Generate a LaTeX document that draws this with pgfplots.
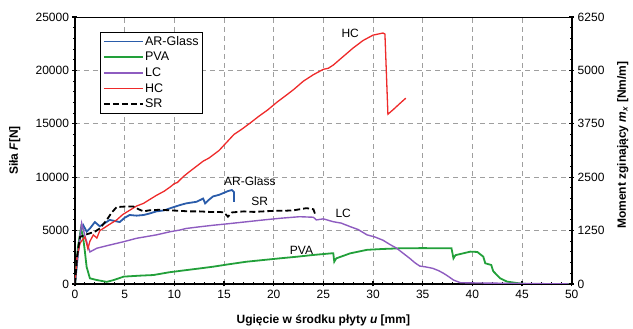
\documentclass[border=0pt]{standalone}
\usepackage{fontspec}
\setmainfont{Liberation Sans}
\usepackage{pgfplots}
\pgfplotsset{compat=1.18}
\definecolor{cblue}{HTML}{2A5CAA}
\definecolor{cgreen}{HTML}{22A03A}
\definecolor{cpurple}{HTML}{8E5CC0}
\definecolor{cred}{HTML}{EE2A2A}
\begin{document}
\begin{tikzpicture}
\pgfplotsset{
 common/.style={width=496.7pt,height=267pt,scale only axis,xmin=0,xmax=50,
 /pgf/number format/assume math mode=true,/pgf/number format/1000 sep={},
 tick label style={font=\fontsize{12}{14}\selectfont},
 label style={font=\bfseries\fontsize{12}{14}\selectfont},
 major tick length=5pt, minor tick length=3pt, tick align=center,
 major tick style={black,line width=1.2pt},
 minor tick style={black,line width=1pt},
 axis line style={line width=1.8pt,-},
 }
}
\begin{axis}[common, ymin=0,ymax=25000, axis x line*=bottom, axis y line*=left,
 xtick={0,5,...,50}, minor x tick num=4, ytick={0,5000,...,25000}, minor y tick num=4,
 grid=major, major grid style={dash pattern=on 5pt off 4pt, gray!75, line width=0.8pt},
 scaled y ticks=false,
 xlabel={Ugięcie w środku płyty \textit{u} [mm]},
 ylabel={Siła \textit{F}[N]},
 xlabel style={at={(axis description cs:0.5,-0.135)},anchor=center},
 ylabel style={at={(axis description cs:-0.121,0.5)},anchor=center},
 legend style={at={(0.05,0.944)},anchor=north west, draw=black,
   font=\fontsize{12.5}{14}\selectfont, row sep=3.5pt, inner xsep=3pt, inner ysep=3pt,
   nodes={inner sep=1pt}},
 legend cell align=left,
 legend image code/.code={\draw[#1] (0cm,0cm) -- (1.38cm,0cm);},
]
\addplot[cblue, line width=1.8pt] coordinates {(0,0) (0.3,2800) (0.6,5000) (0.84,5500) (1.17,4900) (1.5,5200) (2.0,5800) (2.5,5400) (3.0,5700) (3.5,6000) (4.0,5900) (4.5,5800) (5.0,6200) (5.5,6460) (6.2,6400) (6.9,6460) (7.5,6600) (8.2,6800) (9.0,6900) (9.6,7100) (10.6,7400) (11.2,7550) (12.25,7700) (12.9,8000) (13.1,7550) (13.5,7900) (13.9,8200) (14.5,8350) (14.9,8500) (15.4,8700) (15.8,8800) (16.0,8600) (16.0,7700)};
\addlegendentry{AR-Glass}
\addplot[cgreen, line width=1.8pt] coordinates {(0,0) (0.3,3500) (0.6,5200) (0.8,4500) (1.0,3000) (1.17,1600) (1.5,530) (2.2,370) (3.2,200) (3.9,370) (4.9,690) (6.5,780) (7.9,840) (9.5,1100) (11.2,1300) (12.5,1450) (13.9,1620) (15.5,1850) (17.3,2090) (19,2250) (20.6,2400) (22.3,2550) (24,2720) (25.8,2870) (26.0,2870) (26.1,2090) (26.3,2400) (27.7,2870) (29.4,3200) (31,3280) (32.7,3340) (35,3360) (37.4,3340) (37.9,3340) (38.1,2400) (38.3,2700) (39.8,3030) (40.5,3000) (41.1,2560) (41.3,1940) (41.9,1780) (42.1,1200) (42.8,530) (43.5,220) (44.8,50) (45.5,0) (50,0)};
\addlegendentry{PVA}
\addplot[cpurple, line width=1.4pt] coordinates {(0,0) (0.3,3000) (0.67,5700) (1.0,4500) (1.5,3000) (2.2,3350) (3.5,3650) (4.9,3960) (6.2,4280) (8.2,4600) (9.6,4900) (10.6,5060) (11.2,5200) (12.5,5350) (13.9,5500) (15.5,5650) (17.3,5830) (19,6000) (20.6,6150) (22.6,6300) (24,6250) (24.3,6000) (25,6100) (26,5830) (26.8,5700) (27.7,5370) (28.5,5100) (29.4,4600) (30.2,4400) (31,4100) (31.7,3700) (32.4,3340) (33.0,2900) (33.7,2400) (34.2,2000) (34.7,1680) (35.3,1600) (36,1470) (36.6,1250) (37.1,1000) (37.6,700) (38.1,370) (38.8,120) (40,100) (42,80) (45,50) (48,20) (50,0)};
\addlegendentry{LC}
\addplot[cred, line width=1.3pt] coordinates {(0,0) (0.2,2500) (0.5,3800) (0.8,4200) (1.0,4400) (1.3,3300) (1.5,4000) (1.85,4600) (2.2,4300) (2.5,5000) (2.85,5200) (3.5,5600) (4.2,6000) (4.8,6500) (5.5,6900) (6.2,7300) (6.9,7550) (7.5,7900) (8.2,8300) (9.0,8700) (9.6,9100) (10.0,9400) (10.3,9500) (10.9,10050) (11.5,10500) (12.2,11000) (12.9,11500) (13.5,11800) (13.9,12080) (14.5,12500) (15.3,13300) (16.0,14000) (16.8,14500) (17.6,15050) (18.5,15700) (19.4,16300) (20.3,17000) (21.3,17700) (22.0,18200) (23.0,19000) (24.0,19600) (25.0,20100) (25.5,20200) (26.0,20500) (27.0,21300) (28.0,22100) (29.0,22800) (30.0,23300) (31.0,23500) (31.2,23400) (31.5,15900) (32.0,16300) (32.7,16900) (33.3,17400)};
\addlegendentry{HC}
\addplot[black, line width=1.8pt, dash pattern=on 6pt off 3pt] coordinates {(0,0) (0.2,2500) (0.5,4400) (1.0,4600) (1.5,4750) (2.0,4900) (2.5,5200) (3.2,6000) (3.7,6700) (4.2,7200) (5.0,7250) (5.9,7250) (6.4,7000) (6.9,6800) (7.5,6900) (8.5,6950) (9.6,6900) (10.5,6850) (11.5,6800) (12.5,6800) (13.5,6750) (14.5,6750) (15.0,6700) (15.4,6300) (15.8,6700) (17,6800) (18,6750) (19,6800) (20,6850) (21,6850) (22,6900) (23.3,7100) (24.0,7000) (24.2,6460)};
\addlegendentry{SR}
\draw[line width=0.8pt] (rel axis cs:0,1) -- (rel axis cs:1,1);
\node[font=\fontsize{12}{14}\selectfont] at (axis cs:27.7,23470) {HC};
\node[font=\fontsize{12}{14}\selectfont] at (axis cs:17.6,9580) {AR-Glass};
\node[font=\fontsize{12}{14}\selectfont] at (axis cs:18.6,7700) {SR};
\node[font=\fontsize{12}{14}\selectfont] at (axis cs:27.0,6620) {LC};
\node[font=\fontsize{12}{14}\selectfont] at (axis cs:22.8,3180) {PVA};
\end{axis}
\begin{axis}[common, ymin=0,ymax=6250, axis y line*=right, axis x line=none,
 ytick={0,1250,...,6250}, minor y tick num=4, scaled y ticks=false,
 ylabel={Moment zginający \textit{m}\textsubscript{\textit{x}} [Nm/m]},
 ylabel style={at={(axis description cs:1.103,0.52)},anchor=center},
]
\end{axis}
\pgfresetboundingbox
\path (current axis.south west) ++(-75pt,-45pt) rectangle ++(633pt,329pt);
\end{tikzpicture}
\end{document}
